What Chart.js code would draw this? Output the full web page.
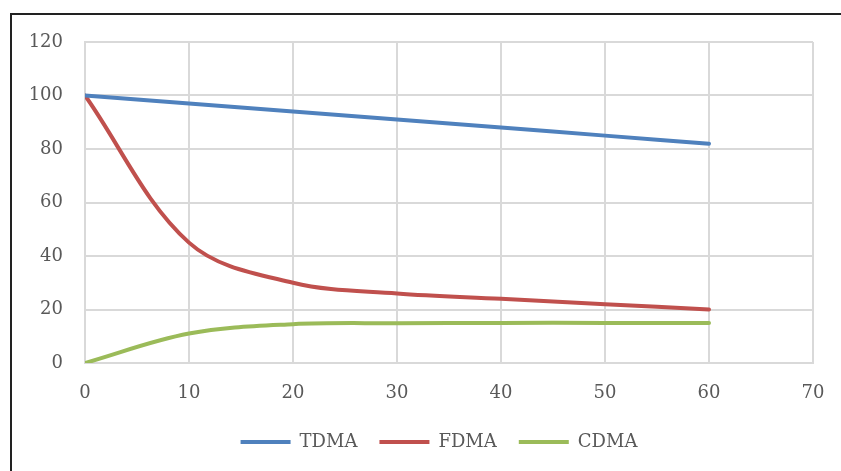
<!DOCTYPE html>
<html>
<head>
<meta charset="utf-8">
<script src="https://cdn.jsdelivr.net/npm/chart.js@4.4.0/dist/chart.umd.min.js"></script>
<style>
  html, body { margin: 0; padding: 0; background: #fff; overflow: hidden; }
  #wrap { position: relative; width: 841px; height: 471px; overflow: hidden; }
  #frame { position: absolute; left: 10px; top: 13px; width: 900px; height: 500px;
           border-left: 2px solid #222; border-top: 2px solid #222; }
  #grafik { position: absolute; left: 0; top: 0; }
</style>
</head>
<body>
<div id="wrap">
  <div id="frame"></div>
  <canvas id="grafik" width="880" height="471"></canvas>
</div>
<script>
// x values (same for every series)
const xValues = [0, 10, 20, 30, 40, 50, 60];
const seriesNames = ['TDMA', 'FDMA', 'CDMA'];
const tdmaValues = [100, 97, 94, 91, 88, 85, 82];
const fdmaValues = [100, 45, 30, 26, 24, 22, 20];
const cdmaValues = [0, 11, 14.5, 14.9, 15, 15, 15];
const seriesColors = ['#4F81BD', '#C0504D', '#9BBB59'];

const toPoints = (vals) => vals.map((v, i) => ({ x: xValues[i], y: v }));

const yazi = { family: "'DejaVu Serif', serif", size: 18 };
const yaziRenk = '#595959';
const griRenk = '#d9d9d9';

new Chart(document.getElementById('grafik'), {
  type: 'line',
  data: {
    datasets: [tdmaValues, fdmaValues, cdmaValues].map((vals, i) => ({
      label: seriesNames[i],
      data: toPoints(vals),
      borderColor: seriesColors[i],
      backgroundColor: seriesColors[i],
      borderWidth: 4,
      borderCapStyle: 'round',
      pointRadius: 0,
      pointStyle: 'line',
      tension: 0.35,
      fill: false
    }))
  },
  options: {
    responsive: false,
    animation: false,
    layout: { padding: { top: 42, left: 10, right: 12, bottom: 10 } },
    plugins: {
      tooltip: { enabled: false },
      legend: {
        position: 'bottom',
        labels: {
          usePointStyle: true,
          pointStyleWidth: 50,
          padding: 22,
          color: yaziRenk,
          font: yazi
        }
      }
    },
    scales: {
      x: {
        type: 'linear',
        min: 0,
        max: 70,
        ticks: { stepSize: 10, color: yaziRenk, font: yazi, padding: 20 },
        grid: { color: griRenk, lineWidth: 2, drawTicks: false },
        border: { color: griRenk, width: 2 },
        afterFit: (scale) => { scale.height = 48; }
      },
      y: {
        min: 0,
        max: 120,
        ticks: { stepSize: 20, color: yaziRenk, font: yazi, padding: 22 },
        grid: { color: griRenk, lineWidth: 2, drawTicks: false },
        border: { color: griRenk, width: 2 },
        afterFit: (scale) => { scale.width = 75; }
      },
      // bos sag eksen: sadece yer tutucu, lejandi ortalamak icin
      bos: {
        type: 'linear',
        position: 'right',
        min: 0,
        max: 1,
        ticks: { display: false },
        grid: { display: false },
        border: { display: false },
        afterFit: (scale) => { scale.width = 55; }
      }
    }
  }
});
</script>
</body>
</html>
